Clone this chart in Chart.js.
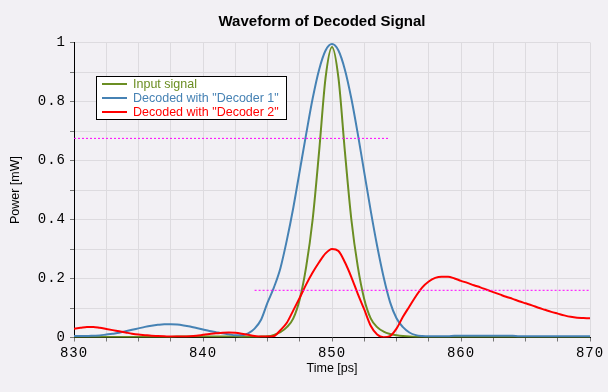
<!DOCTYPE html>
<html>
<head>
<meta charset="utf-8">
<script src="https://cdn.jsdelivr.net/npm/chart.js@4.4.1/dist/chart.umd.min.js"></script>
<style>
    html, body { margin: 0; padding: 0; background: #f2f0f4; }
    #wrap { width: 608px; height: 392px; }
</style>
</head>
<body>
<div id="wrap"><canvas id="waveChart" width="608" height="392"></canvas></div>
<script>
// Eje de tiempo (ps), un punto cada 0.5 ps
const timePs = [
    830, 830.5, 831, 831.5, 832, 832.5, 833, 833.5, 834, 834.5,
    835, 835.5, 836, 836.5, 837, 837.5, 838, 838.5, 839, 839.5,
    840, 840.5, 841, 841.5, 842, 842.5, 843, 843.5, 844, 844.5,
    845, 845.5, 846, 846.5, 847, 847.5, 848, 848.5, 849, 849.5,
    850, 850.5, 851, 851.5, 852, 852.5, 853, 853.5, 854, 854.5,
    855, 855.5, 856, 856.5, 857, 857.5, 858, 858.5, 859, 859.5,
    860, 860.5, 861, 861.5, 862, 862.5, 863, 863.5, 864, 864.5,
    865, 865.5, 866, 866.5, 867, 867.5, 868, 868.5, 869, 869.5, 870
];

// Potencia (mW) de cada serie
const inputSignal = [
    0.002, 0.002, 0.002, 0.002, 0.002, 0.002, 0.002, 0.002, 0.002, 0.002,
    0.002, 0.002, 0.002, 0.002, 0.002, 0.002, 0.003, 0.003, 0.003, 0.003,
    0.003, 0.003, 0.003, 0.003, 0.003, 0.003, 0.002, 0.002, 0.002, 0.003,
    0.004, 0.009, 0.018, 0.035, 0.065, 0.13, 0.24, 0.40, 0.63, 0.88,
    0.985, 0.88, 0.63, 0.40, 0.24, 0.13, 0.065, 0.035, 0.02, 0.012,
    0.008, 0.005, 0.003, 0.002, 0.002, 0.002, 0.002, 0.002, 0.002, 0.002,
    0.002, 0.002, 0.002, 0.002, 0.002, 0.002, 0.002, 0.002, 0.002, 0.002,
    0.002, 0.002, 0.002, 0.002, 0.002, 0.002, 0.002, 0.002, 0.002, 0.002, 0.002
];

const decoder1 = [
    0.005, 0.005, 0.005, 0.006, 0.007, 0.010, 0.013, 0.016, 0.021, 0.026,
    0.031, 0.036, 0.040, 0.043, 0.045, 0.045, 0.044, 0.041, 0.037, 0.032,
    0.027, 0.022, 0.018, 0.014, 0.011, 0.008, 0.008, 0.014, 0.030, 0.060,
    0.118, 0.17, 0.235, 0.33, 0.44, 0.565, 0.69, 0.81, 0.908, 0.973,
    0.995, 0.973, 0.908, 0.81, 0.69, 0.56, 0.43, 0.31, 0.205, 0.12,
    0.065, 0.035, 0.017, 0.008, 0.005, 0.004, 0.004, 0.004, 0.004, 0.006,
    0.006, 0.006, 0.006, 0.006, 0.006, 0.006, 0.006, 0.006, 0.006, 0.004,
    0.004, 0.004, 0.004, 0.004, 0.004, 0.004, 0.004, 0.004, 0.004, 0.004, 0.004
];

const decoder2 = [
    0.030, 0.033, 0.036, 0.036, 0.033, 0.029, 0.025, 0.021, 0.017, 0.013,
    0.010, 0.008, 0.006, 0.005, 0.004, 0.003, 0.003, 0.003, 0.004, 0.006,
    0.009, 0.012, 0.014, 0.016, 0.017, 0.016, 0.013, 0.009, 0.005, 0.003,
    0.003, 0.005, 0.025, 0.05, 0.092, 0.135, 0.18, 0.22, 0.255, 0.285,
    0.30, 0.293, 0.255, 0.205, 0.148, 0.095, 0.04, 0.01, 0.001, 0.005,
    0.03, 0.07, 0.105, 0.14, 0.17, 0.19, 0.202, 0.206, 0.206, 0.20,
    0.192, 0.185, 0.177, 0.17, 0.162, 0.154, 0.146, 0.138, 0.131, 0.123,
    0.116, 0.109, 0.101, 0.094, 0.087, 0.081, 0.075, 0.07, 0.067, 0.066, 0.065
];

// Líneas de umbral (magenta punteadas)
const upperThresholdX = [830, 854.4];
const upperThresholdY = [0.675, 0.675];
const lowerThresholdX = [844, 870];
const lowerThresholdY = [0.16, 0.16];

const seriesLabels = ['Input signal', 'Decoded with "Decoder 1"', 'Decoded with "Decoder 2"'];
const seriesColors = ['#6b8e23', '#4682b4', '#ff0000'];

const chartTitle = 'Waveform of Decoded Signal';
const xTitle = 'Time [ps]';
const yTitle = 'Power [mW]';

function toPoints(xs, ys) {
    return xs.map((x, i) => ({ x: x, y: ys[i] }));
}

// Fondo, título, leyenda y títulos de ejes
const decorPlugin = {
    id: 'decor',
    beforeDraw(chart) {
        const ctx = chart.ctx;
        ctx.save();
        ctx.fillStyle = '#f2f0f4';
        ctx.fillRect(0, 0, chart.width, chart.height);
        ctx.restore();
        ctx.letterSpacing = '1px'; // etiquetas de los ejes espaciadas
    },
    afterDraw(chart) {
        const ctx = chart.ctx;
        const area = chart.chartArea;
        ctx.save();
        ctx.letterSpacing = '0px';
        ctx.fillStyle = '#000';
        ctx.textAlign = 'center';
        ctx.textBaseline = 'middle';
        ctx.font = 'bold 15px "Liberation Sans", Arial, sans-serif';
        ctx.fillText(chartTitle, 322, 22);

        ctx.font = '12.5px "Liberation Sans", Arial, sans-serif';
        ctx.fillText(xTitle, (area.left + area.right) / 2, 369);
        ctx.save();
        ctx.translate(16, (area.top + area.bottom) / 2);
        ctx.rotate(-Math.PI / 2);
        ctx.fillText(yTitle, 0, 0);
        ctx.restore();

        // Leyenda
        ctx.fillStyle = '#fff';
        ctx.fillRect(96.5, 76.5, 190, 43);
        ctx.strokeStyle = '#000';
        ctx.lineWidth = 1;
        ctx.strokeRect(96.5, 76.5, 190, 43);
        ctx.textAlign = 'left';
        seriesLabels.forEach((label, i) => {
            const y = 84 + i * 14;
            ctx.strokeStyle = seriesColors[i];
            ctx.lineWidth = 2;
            ctx.beginPath();
            ctx.moveTo(102, y);
            ctx.lineTo(127, y);
            ctx.stroke();
            ctx.fillStyle = seriesColors[i];
            ctx.fillText(label, 133, y + 0.5);
        });
        ctx.restore();
    }
};

const tickFont = { family: '"Liberation Mono", "DejaVu Sans Mono", monospace', size: 14 };

const ctx = document.getElementById('waveChart').getContext('2d');

new Chart(ctx, {
    type: 'line',
    data: {
        datasets: [
            {
                label: seriesLabels[0],
                data: toPoints(timePs, inputSignal),
                borderColor: seriesColors[0],
                borderWidth: 2,
                pointRadius: 0,
                cubicInterpolationMode: 'monotone',
                order: 3
            },
            {
                label: seriesLabels[1],
                data: toPoints(timePs, decoder1),
                borderColor: seriesColors[1],
                borderWidth: 2,
                pointRadius: 0,
                cubicInterpolationMode: 'monotone',
                order: 2
            },
            {
                label: seriesLabels[2],
                data: toPoints(timePs, decoder2),
                borderColor: seriesColors[2],
                borderWidth: 2,
                pointRadius: 0,
                cubicInterpolationMode: 'monotone',
                order: 1
            },
            {
                label: 'upper threshold',
                data: toPoints(upperThresholdX, upperThresholdY),
                borderColor: '#ff00ff',
                borderWidth: 1,
                borderDash: [2, 2],
                pointRadius: 0,
                order: 0
            },
            {
                label: 'lower threshold',
                data: toPoints(lowerThresholdX, lowerThresholdY),
                borderColor: '#ff00ff',
                borderWidth: 1,
                borderDash: [2, 2],
                pointRadius: 0,
                order: 0
            }
        ]
    },
    options: {
        responsive: false,
        animation: false,
        layout: {
            padding: { top: 42.5, right: 18, bottom: 0, left: 0 }
        },
        plugins: {
            legend: { display: false },
            title: { display: false },
            tooltip: { enabled: false }
        },
        scales: {
            x: {
                type: 'linear',
                min: 830,
                max: 870,
                afterFit: (scale) => { scale.height = 54.5; },
                ticks: {
                    stepSize: 2.5,
                    autoSkip: false,
                    maxRotation: 0,
                    padding: 3,
                    color: '#000',
                    font: tickFont,
                    callback: (v) => (v % 10 === 0 ? String(v) : '')
                },
                grid: {
                    color: '#dddbdf',
                    tickColor: '#777',
                    tickLength: 4
                },
                border: { color: '#000', width: 1 }
            },
            y: {
                min: 0,
                max: 1,
                afterFit: (scale) => { scale.width = 74; },
                ticks: {
                    stepSize: 0.1,
                    autoSkip: false,
                    padding: 4,
                    color: '#000',
                    font: tickFont,
                    callback: (v) => {
                        const tenths = Math.round(v * 10);
                        return tenths % 2 === 0 ? String(tenths / 10) : '';
                    }
                },
                grid: {
                    color: '#dddbdf',
                    tickColor: '#777',
                    tickLength: 4
                },
                border: { color: '#000', width: 1 }
            }
        }
    },
    plugins: [decorPlugin]
});
</script>
</body>
</html>
